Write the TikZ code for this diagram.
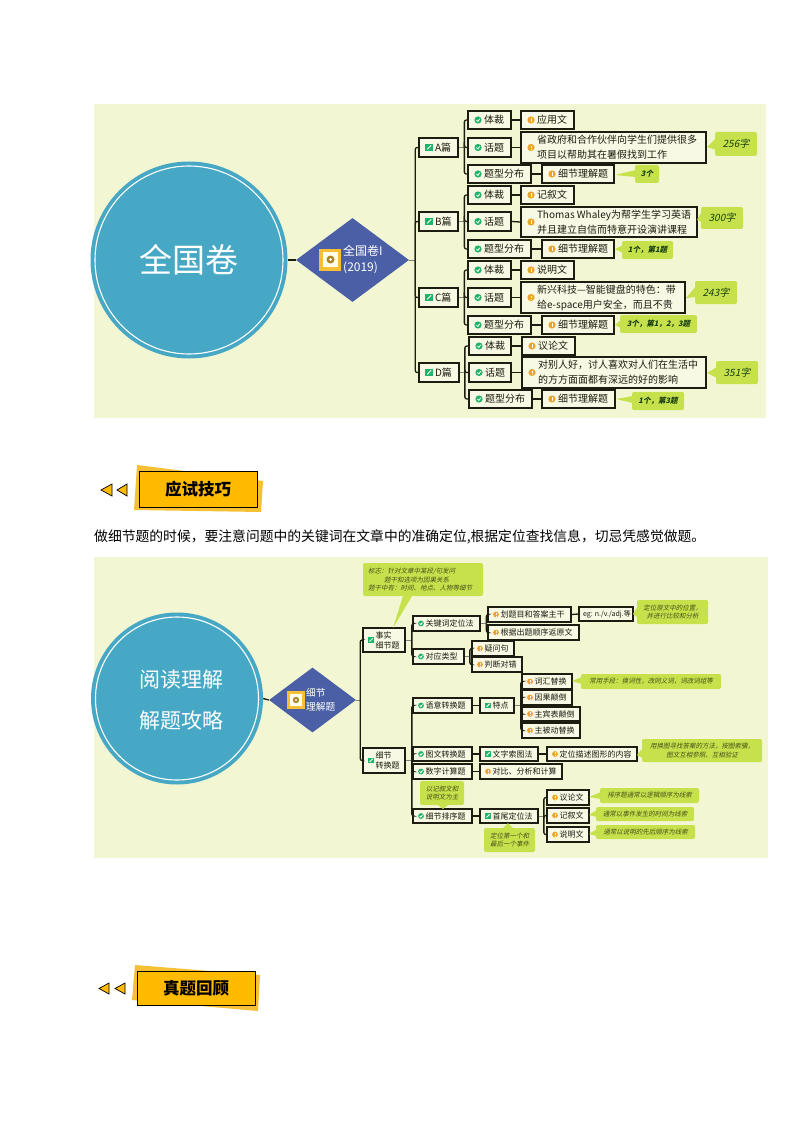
\documentclass[tikz,border=0pt]{standalone}
\usepackage{fontspec}
\setmainfont{Noto Sans CJK SC}
\newfontfamily\slantcjk[FakeSlant=0.22]{Noto Sans CJK SC}
\usetikzlibrary{shapes.geometric,calc}
\definecolor{panelc}{HTML}{F3F6D2}
\definecolor{circc}{HTML}{47A8C5}
\definecolor{diamc}{HTML}{4A5FA5}
\definecolor{callc}{HTML}{C6E14B}
\definecolor{inkc}{HTML}{1C1C10}
\definecolor{boxc}{HTML}{F8F9E4}
\definecolor{grnc}{HTML}{22B36A}
\definecolor{orgc}{HTML}{F0A22E}
\definecolor{yelc}{HTML}{FFBB00}
\definecolor{gldc}{HTML}{F6C035}
\tikzset{
  boxn/.style={draw=inkc,fill=boxc,line width=1.7pt,inner sep=0pt,text=inkc},
  conn/.style={draw=inkc,line width=1.3pt,rounded corners=2pt},
  stem/.style={draw=inkc!55,line width=.7pt},
  calln/.style={fill=callc,rounded corners=2pt,inner sep=0pt,align=center},
  headn/.style={draw=black,line width=.8pt,fill=yelc,inner sep=0pt,text=black,font=\fontsize{16.5}{18}\selectfont\bfseries},
  tri/.style={fill=yelc,draw=black,line width=.7pt,line join=miter}
}
\def\fsz{\fontsize{10}{15}\selectfont}
\def\pad{16}\def\icoff{10}\def\icr{3.6}
\newcommand\icNone[2]{}
\newcommand\icChk[2]{\fill[grnc] (#1,#2) circle (\icr);
  \draw[white,line width=.8pt] (#1-.45*\icr,#2) -- (#1-.05*\icr,#2+.4*\icr) -- (#1+.5*\icr,#2-.35*\icr);}
\newcommand\icExc[2]{\fill[orgc] (#1,#2) circle (\icr);
  \draw[white,line width=.7pt] (#1,#2-.55*\icr) -- (#1,#2+.15*\icr) (#1,#2+.4*\icr) -- (#1,#2+.6*\icr);}
\newcommand\icPen[2]{\fill[grnc] (#1-\icr,#2-\icr) rectangle (#1+\icr,#2+\icr);
  \draw[white,line width=.9pt] (#1-.5*\icr,#2+.5*\icr) -- (#1+.6*\icr,#2-.6*\icr);}
\newcommand\bx[7]{%
  \pgfmathsetmacro\bw{#4-#2}\pgfmathsetmacro\bh{#5-#3}%
  \pgfmathsetmacro\cx{(#2+#4)/2}\pgfmathsetmacro\cy{(#3+#5)/2}%
  \pgfmathsetmacro\tw{#4-#2-\pad}\pgfmathsetmacro\ix{#2+\icoff}%
  \node[boxn,minimum width=\bw pt,minimum height=\bh pt] (#1) at (\cx,\cy)
    {\makebox[\bw pt][l]{\hspace{\pad pt}\parbox[c]{\tw pt}{\raggedright\fsz #7}}};
  \csname ic#6\endcsname{\ix}{\cy}}
\newcommand\callout[6]{% name x1 y1 x2 y2 text
  \pgfmathsetmacro\bw{#4-#2}\pgfmathsetmacro\bh{#5-#3}%
  \pgfmathsetmacro\cx{(#2+#4)/2}\pgfmathsetmacro\cy{(#3+#5)/2}%
  \node[calln,minimum width=\bw pt,minimum height=\bh pt,text=\calltext,font=\callfont] (#1) at (\cx,\cy) {#6};}
\newcommand\tail[3]{\fill[callc] #1 -- #2 -- #3 -- cycle;}
\newcommand\branch[3]{\coordinate (#1-t) at ([xshift=#2pt]#1.east);
  \draw[stem] (#1.east) -- (#1-t);
  \foreach \c in {#3}{\draw[conn] (#1-t) |- (\c.west);}}
\newcommand\link[2]{\draw[conn] (#1.east) -- (#2.west);}
\begin{document}
\begin{tikzpicture}[x=1pt,y=-1pt]
\useasboundingbox (0,0) rectangle (794,1123);
\fill[white] (0,0) rectangle (794,1123);
%================ panel 1
\fill[panelc] (94,104) rectangle (766,418);
\node[circle,fill=circc,minimum size=197pt,inner sep=0pt,text=white,font=\fontsize{33}{36}\selectfont] (root1) at (189,260) {全国卷};
\draw[white,line width=1.1pt] (189,260) circle (94);
\node[diamond,fill=diamc,minimum width=113pt,minimum height=84pt,inner sep=0pt,aspect=1.345] (dia1) at (352.5,260) {};
\draw[conn] (root1.east) -- (dia1.west);
\fill[gldc] (319,249) rectangle (341,271);
\fill[white!92!yellow] (323,252) rectangle (338,267);
\fill[gldc!70!black] (330.5,259.5) circle (4);
\fill[white] (330.5,259.5) circle (1.5);
\node[anchor=west,inner sep=0pt,text=white,align=left,font=\fontsize{12}{16}\selectfont] (dia1t) at (343,260) {全国卷I\\(2019)};

\def\fsz{\fontsize{10}{15}\selectfont}\def\pad{16}\def\icoff{10}\def\icr{3.6}
\bx{A}{419}{138}{458}{157}{Pen}{A篇}
\bx{B}{419}{212}{458}{231}{Pen}{B篇}
\bx{C}{419}{288}{458}{307}{Pen}{C篇}
\bx{D}{419}{363}{459}{382}{Pen}{D篇}
\bx{a1}{468}{111}{511}{129}{Chk}{体裁}
\bx{a2}{521}{111}{574}{129}{Exc}{应用文}
\bx{a3}{468}{138}{511}{157}{Chk}{话题}
\bx{a4}{521}{132}{706}{163}{Exc}{省政府和合作伙伴向学生们提供很多\\项目以帮助其在暑假找到工作}
\bx{a5}{468}{165}{531}{183}{Chk}{题型分布}
\bx{a6}{542}{165}{614}{183}{Exc}{细节理解题}
\bx{b1}{468}{186}{511}{204}{Chk}{体裁}
\bx{b2}{521}{186}{574}{204}{Exc}{记叙文}
\bx{b3}{468}{212}{511}{231}{Chk}{话题}
\bx{b4}{521}{207}{697}{237}{Exc}{Thomas  Whaley为帮学生学习英语\\并且建立自信而特意开设演讲课程}
\bx{b5}{468}{240}{531}{258}{Chk}{题型分布}
\bx{b6}{542}{240}{614}{258}{Exc}{细节理解题}
\bx{c1}{468}{261}{511}{279}{Chk}{体裁}
\bx{c2}{521}{261}{574}{279}{Exc}{说明文}
\bx{c3}{468}{288}{511}{307}{Chk}{话题}
\bx{c4}{521}{282}{685}{313}{Exc}{新兴科技—智能键盘的特色：带\\给e-space用户安全，而且不贵}
\bx{c5}{468}{316}{531}{334}{Chk}{题型分布}
\bx{c6}{542}{316}{614}{334}{Exc}{细节理解题}
\bx{d1}{469}{337}{511}{355}{Chk}{体裁}
\bx{d2}{522}{337}{575}{355}{Exc}{议论文}
\bx{d3}{469}{363}{511}{382}{Chk}{话题}
\bx{d4}{522}{357}{706}{388}{Exc}{对别人好，讨人喜欢对人们在生活中\\的方方面面都有深远的好的影响}
\bx{d5}{469}{390}{532}{408}{Chk}{题型分布}
\bx{d6}{542}{390}{615}{408}{Exc}{细节理解题}
\branch{dia1}{6}{A,B,C,D}
\branch{A}{5.5}{a1,a3,a5}
\branch{B}{5.5}{b1,b3,b5}
\branch{C}{5.5}{c1,c3,c5}
\branch{D}{5}{d1,d3,d5}
\link{a1}{a2}\link{a3}{a4}\link{a5}{a6}
\link{b1}{b2}\link{b3}{b4}\link{b5}{b6}
\link{c1}{c2}\link{c3}{c4}\link{c5}{c6}
\link{d1}{d2}\link{d3}{d4}\link{d5}{d6}
\def\calltext{inkc!85!green}
\def\callfont{\fontsize{10}{12}\selectfont\slantcjk}
\tail{(707,147)}{(716,138)}{(716,150)}\callout{n256}{715}{132}{757}{156}{256字}
\tail{(707,373)}{(717,367)}{(717,378)}\callout{n351}{716}{361}{758}{384}{351字}
\tail{(697,220)}{(702,211)}{(702,222)}\callout{n300}{701}{207}{743}{229}{300字}
\tail{(686,298)}{(696,286)}{(696,297)}\callout{n243}{695}{281}{737}{304}{243字}
\def\callfont{\fontsize{7.5}{9}\selectfont\slantcjk\bfseries}
\tail{(615,175)}{(636,170)}{(636,177)}\callout{na}{635}{165}{659}{183}{3个}
\tail{(615,249)}{(623,245)}{(623,253)}\callout{nb}{622}{241}{673}{259}{1个，第1题}
\tail{(615,325)}{(621,320)}{(621,328)}\callout{nc}{620}{315}{697}{333}{3个，第1，2，3题}
\tail{(616,399)}{(633,396)}{(633,403)}\callout{nd}{632}{392}{684}{410}{1个，第3题}
%================ header 2
\fill[gldc] (137,465) -- (263,481) -- (261,512) -- (134,510) -- cycle;
\node[headn,minimum width=118pt,minimum height=36pt] (h1) at (198,489) {应试技巧};
\draw[tri] (101,490) -- (112,484) -- (112,496) -- cycle;
\draw[tri] (117,490) -- (127,484) -- (127,496) -- cycle;
\node[anchor=west,inner sep=0pt,text=black,font=\fontsize{13.8}{15}\selectfont] (sent) at (94,537) {做细节题的时候，要注意问题中的关键词在文章中的准确定位,根据定位查找信息，切忌凭感觉做题。};
%================ panel 2
\fill[panelc] (94,557) rectangle (768,858);
\node[circle,fill=circc,minimum size=172pt,inner sep=0pt] (root2) at (177,698.5) {};
\draw[white,line width=1.1pt] (177,698.5) circle (81.5);
\node[anchor=center,inner sep=0pt,text=white,align=center,font=\fontsize{21}{41}\selectfont] (root2t) at (181,700) {阅读理解\\解题攻略};
\node[diamond,fill=diamc,minimum width=87pt,minimum height=65pt,inner sep=0pt,aspect=1.338] (dia2) at (312.5,700) {};
\draw[conn] (root2.east) -- (dia2.west);
\fill[gldc] (287,691) rectangle (305,709);
\fill[white!92!yellow] (290,694) rectangle (302,706);
\fill[gldc!70!black] (296,700) circle (3.2);
\fill[white] (296,700) circle (1.2);
\node[anchor=west,inner sep=0pt,text=white,align=left,font=\fontsize{9.7}{14}\selectfont] (dia2t) at (306,700) {细节\\理解题};

\def\fsz{\fontsize{8}{10}\selectfont}\def\pad{12.7}\def\icoff{8}\def\icr{2.9}
\bx{f}{363}{628}{405}{652}{Pen}{事实\\细节题}
\bx{g}{363}{748}{405}{773}{Pen}{细节\\转换题}
\bx{f1}{413}{616}{480}{631}{Chk}{关键词定位法}
\bx{f2}{413}{649}{464}{664}{Chk}{对应类型}
\bx{f11}{488}{607}{571}{622}{Exc}{划题目和答案主干}
\bx{f12}{488}{625}{579}{640}{Exc}{根据出题顺序返原文}
\def\pad{4}
\bx{f13}{579}{607}{633}{621}{None}{\mbox{\fontsize{7}{8}\selectfont eg: n./v./adj.等}}
\def\pad{12.7}
\bx{f21}{472}{641}{514}{656}{Exc}{疑问句}
\bx{f22}{472}{657}{522}{672}{Exc}{判断对错}
\bx{g1}{413}{698}{472}{713}{Chk}{语意转换题}
\bx{g11}{480}{698}{514}{713}{Pen}{特点}
\bx{g111}{522}{674}{572}{689}{Exc}{词汇替换}
\bx{g112}{522}{690}{572}{705}{Exc}{因果颠倒}
\bx{g113}{522}{707}{580}{721}{Exc}{主宾表颠倒}
\bx{g114}{522}{723}{580}{738}{Exc}{主被动替换}
\bx{g2}{413}{747}{472}{761}{Chk}{图文转换题}
\bx{g21}{480}{747}{538}{761}{Pen}{文字索图法}
\bx{g22}{547}{747}{637}{761}{Exc}{定位描述图形的内容}
\bx{g3}{413}{764}{472}{779}{Chk}{数字计算题}
\bx{g31}{480}{764}{562}{779}{Exc}{对比、分析和计算}
\bx{g4}{413}{809}{472}{823}{Chk}{细节排序题}
\bx{g41}{480}{809}{538}{823}{Pen}{首尾定位法}
\bx{g411}{547}{790}{589}{805}{Exc}{议论文}
\bx{g412}{547}{808}{589}{823}{Exc}{记叙文}
\bx{g413}{547}{827}{589}{842}{Exc}{说明文}
\branch{dia2}{4}{f,g}
\branch{f}{6}{f1,f2}
\branch{f1}{5.5}{f11,f12}
\branch{f2}{5}{f21,f22}
\branch{g}{6}{g1,g2,g3,g4}
\branch{g11}{6}{g111,g112,g113,g114}
\branch{g41}{5}{g411,g412,g413}
\link{f11}{f13}\link{g1}{g11}\link{g2}{g21}\link{g21}{g22}\link{g3}{g31}\link{g4}{g41}
\def\calltext{inkc!45!callc!60!black}
\def\callfont{\fontsize{6.5}{8.5}\selectfont\slantcjk}
\tail{(393,628)}{(403,596)}{(412,596)}
\callout{m1}{363}{563}{483}{596}{\parbox{110pt}{\raggedright 标志：针对文章中某段/句发问\\\hspace*{16pt}题干和选项为因果关系\\题干中有：时间、地点、人物等细节}}
\tail{(633,614)}{(638,606)}{(638,618)}\callout{m2}{637}{600}{708}{624}{定位原文中的位置，\\并进行比较和分析}
\tail{(572,681)}{(582,677)}{(582,684)}\callout{m3}{581}{674}{721}{689}{常用手段：换词性，改同义词，词改词组等}
\tail{(637,755)}{(643,748)}{(643,758)}\callout{m4}{642}{739}{762}{762}{用换图寻找答案的方法，按图索骥，\\图文互相参照、互相验证}
\tail{(443,809)}{(438,805)}{(448,805)}\callout{m5}{420}{781}{464}{805}{以记叙文和\\说明文为主}
\tail{(508,823)}{(503,828)}{(513,828)}\callout{m6}{484}{828}{535}{852}{定位第一个和\\最后一个事件}
\tail{(589,797)}{(601,792)}{(601,799)}\callout{m7}{600}{788}{699}{803}{排序题通常以逻辑顺序为线索}
\tail{(589,815)}{(597,810)}{(597,817)}\callout{m8}{596}{807}{694}{821}{通常以事件发生的时间为线索}
\tail{(589,834)}{(597,829)}{(597,836)}\callout{m9}{596}{825}{695}{839}{通常以说明的先后顺序为线索}
%================ header 3
\fill[gldc] (135,965) -- (260,975) -- (258,1011) -- (132,1000) -- cycle;
\node[headn,minimum width=118pt,minimum height=34pt] (h2) at (196,988) {真题回顾};
\draw[tri] (99,988.5) -- (109,983) -- (109,994) -- cycle;
\draw[tri] (115,988.5) -- (125,983) -- (125,994) -- cycle;
\end{tikzpicture}
\end{document}
